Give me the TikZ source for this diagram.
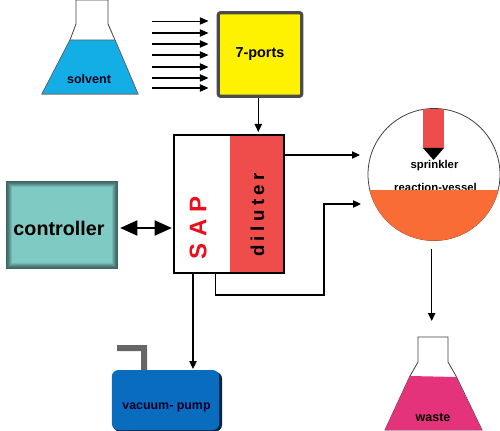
\documentclass[tikz,border=0pt]{standalone}
\usepackage{fontspec}
\setmainfont{Liberation Sans}
\usetikzlibrary{arrows.meta}
\definecolor{solventblue}{HTML}{14AEE6}
\definecolor{portyellow}{HTML}{FFF200}
\definecolor{dilred}{HTML}{EE4D4B}
\definecolor{ctrlteal}{HTML}{7FCBC4}
\definecolor{vesselorange}{HTML}{F96C36}
\definecolor{pumpblue}{HTML}{0A6CBE}
\definecolor{wastepink}{HTML}{E5337B}
\definecolor{sapred}{HTML}{E8101C}
\tikzset{
  flow/.style={draw=black,line width=0.8pt,-{Triangle[length=6pt,width=5.5pt]}},
  feed/.style={draw=black,line width=1pt,-{Triangle[length=6.5pt,width=5.5pt]}},
  flask/.style={draw=black!75,line width=0.6pt,fill=white},
  lab/.style={font=\bfseries,text=black!90!blue,inner sep=0pt},
}
\begin{document}
\begin{tikzpicture}[x=0.75pt,y=-0.75pt]
\useasboundingbox (0,0) rectangle (500,431);
\fill[white] (0,0) rectangle (500,431);

% solvent flask
\draw[flask] (76,0) -- (108,0) -- (108,24) -- (115,40) -- (138,94) -- (42,94) -- (70,40) -- (76,24) -- cycle;
\fill[solventblue,draw=black!60,line width=0.4pt] (70,40) -- (115,40) -- (138,94) -- (42,94) -- cycle;
\node[lab,font=\fontsize{9.4pt}{11pt}\bfseries] (solvent) at (89,79) {solvent};

% 7-ports
\node[draw=black!70,line width=2.4pt,fill=portyellow,rounded corners=1.5pt,minimum width=62.5pt,minimum height=62.5pt,inner sep=0pt,
  font=\fontsize{10.8pt}{12pt}\bfseries] (ports) at (260,54.5) {7-ports};
\foreach \n/\yy/\w in {1/21/0.6pt,2/33/1pt,3/44/1pt,4/55/0.8pt,5/67/1pt,6/78/1pt,7/88/1pt}{
  \coordinate (src\n) at (152,\yy);
  \coordinate (dst\n) at (208.5,\yy);
  \draw[feed,line width=\w] (src\n) -- (dst\n);
}

% SAP / diluter block
\fill[dilred] (230,135) rectangle (284,273);
\node[draw=black,line width=1.2pt,minimum width=82.5pt,minimum height=103.5pt,inner sep=0pt] (sap) at (229,204) {};
\node[rotate=90,inner sep=0pt,text=sapred,font=\fontsize{18pt}{20pt}\bfseries] (saptext) at (198,228) {S\kern5pt A\kern5pt P};
\node[rotate=90,inner sep=0pt,font=\fontsize{14pt}{16pt}\bfseries\addfontfeature{LetterSpace=24}] (dil) at (257.5,215) {diluter};
\coordinate (portsin) at (258.3,132);
\draw[flow] (ports.south -| portsin) -- (portsin);

% controller
\foreach \i/\c in {0/50,1/55,2/60,3/70,4/80,5/90}{
  \fill[ctrlteal!\c!black] (6+\i,181+\i) rectangle (118-\i,269-\i);
}
\fill[ctrlteal] (12,187) rectangle (112,263);
\node[inner sep=0pt,font=\fontsize{14.8pt}{16pt}\bfseries] (ctrl) at (59,228) {controller};
\coordinate (ctrlR) at (120,228);
\coordinate (sapL) at (172,228);
\draw[black,line width=2.2pt,{Triangle[length=13pt,width=11pt]}-{Triangle[length=13pt,width=11pt]}] (ctrlR) -- (sapL);

% reaction vessel
\coordinate (vc) at (434,174.5);
\draw[black!75,line width=0.6pt,fill=white] (vc) circle [radius=66];
\node[inner sep=0pt,font=\fontsize{8.5pt}{10pt}\bfseries] (spr) at (434.5,166) {sprinkler};
\node[inner sep=0pt,font=\fontsize{8.5pt}{10pt}\bfseries] (rv) at (435.5,187.5) {reaction-vessel};
\begin{scope}
  \clip (360,191) rectangle (510,250);
  \fill[vesselorange] (vc) circle [radius=66.2];
\end{scope}
\fill[dilred] (423,109) rectangle (444,148);
\fill[black] (423,148) -- (444,148) -- (433.5,160) -- cycle;

% connectors
\coordinate (vin1) at (360,155);
\coordinate (vin2) at (361,204);
\coordinate (b1) at (215.5,273);
\coordinate (b2) at (215.5,295);
\coordinate (b3) at (324,295);
\coordinate (b4) at (324,204);
\coordinate (s1) at (284,155);
\draw[flow] (s1) -- (vin1);
\draw[flow] (b1) -- (b2) -- (b3) -- (b4) -- (vin2);

% vacuum pump
\fill[black!60] (117,345) -- (147,345) -- (147,372) -- (141,372) -- (141,351) -- (117,351) -- cycle;
\fill[black!65!pumpblue,rounded corners=5pt] (113,372) rectangle (222,431.5);
\node[fill=pumpblue,rounded corners=5pt,minimum width=80.5pt,minimum height=45pt,inner sep=0pt] (pump) at (165.5,400) {};
\node[inner sep=0pt,text=black!85!blue,font=\fontsize{9.3pt}{11pt}\bfseries] (pumptext) at (166.5,407.5) {vacuum- pump};
\coordinate (p1) at (193,273);
\coordinate (p2) at (193,369);
\draw[flow] (p1) -- (p2);

% waste flask
\draw[flask] (418,337) -- (448,337) -- (448,362) -- (456,376) -- (482,430) -- (385,430) -- (410,376) -- (418,362) -- cycle;
\fill[wastepink] (410,376) -- (456,377) -- (482,430) -- (385,430) -- cycle;
\node[inner sep=0pt,font=\fontsize{9.4pt}{11pt}\bfseries] (waste) at (433,417.5) {waste};
\coordinate (v1) at (431.7,249);
\coordinate (v2) at (431.7,321);
\draw[flow,line width=1.1pt] (v1) -- (v2);
\end{tikzpicture}
\end{document}
